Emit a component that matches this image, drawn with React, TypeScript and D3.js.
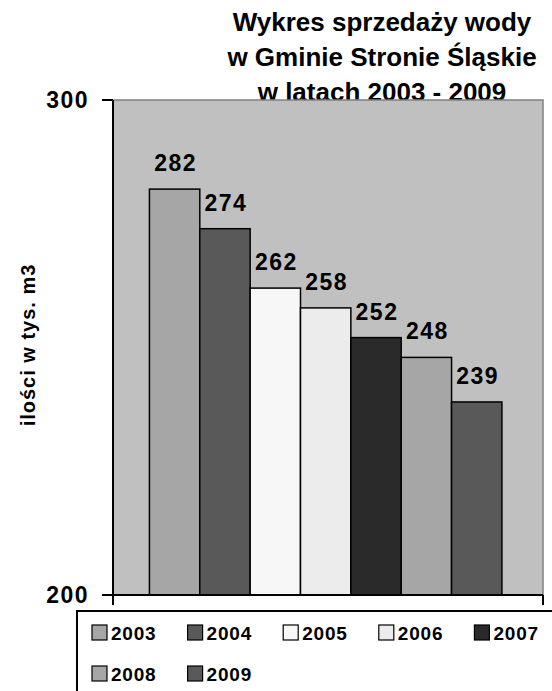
import { useEffect, useRef } from "react";
import * as d3 from "d3";

const years = ["2003", "2004", "2005", "2006", "2007", "2008", "2009"];
const sales = [282, 274, 262, 258, 252, 248, 239];
const barColors = ["#a6a6a6", "#595959", "#f7f7f7", "#ececec", "#2a2a2a", "#a6a6a6", "#595959"];
const yTicks = [200, 300];
const titleLines = ["Wykres sprzedaży wody", "w Gminie Stronie Śląskie", "w latach 2003 - 2009"];
const yTitle = "ilości w tys. m3";

const W = 552;
const H = 691;
const FONT = "'Liberation Sans', Arial, sans-serif";

const App = () => {
  const svgRef = useRef<SVGSVGElement>(null);

  useEffect(() => {
    if (!svgRef.current) return;
    const svg = d3.select(svgRef.current);
    svg.selectAll("*").remove();

    const plot = { left: 113, right: 543, top: 100, bottom: 595 };

    const x = d3.scaleBand<string>()
      .domain(years)
      .range([plot.left, plot.right])
      .paddingInner(0)
      .paddingOuter(0.77)
      .align(0.47);
    const y = d3.scaleLinear().domain([200, 300]).range([plot.bottom, plot.top]);

    svg.append("rect").attr("width", W).attr("height", H).attr("fill", "#fff");

    // Title (drawn first, plot area overlaps the last line a bit)
    const title = svg.append("text")
      .attr("text-anchor", "middle")
      .attr("font-family", FONT)
      .attr("font-weight", 700)
      .attr("font-size", 26)
      .attr("fill", "#000");
    titleLines.forEach((t, i) => {
      title.append("tspan").attr("x", 382).attr("y", 31 + i * 35).text(t);
    });

    // Plot area
    svg.append("rect")
      .attr("x", plot.left)
      .attr("y", plot.top)
      .attr("width", plot.right - plot.left)
      .attr("height", plot.bottom - plot.top)
      .attr("fill", "#c0c0c0")
      .attr("stroke", "#808080")
      .attr("stroke-width", 1.5);

    // Bars
    svg.selectAll(".bar")
      .data(sales)
      .enter()
      .append("rect")
      .attr("class", "bar")
      .attr("x", (_, i) => x(years[i])!)
      .attr("y", (d) => y(d))
      .attr("width", x.bandwidth())
      .attr("height", (d) => y(200) - y(d))
      .attr("fill", (_, i) => barColors[i])
      .attr("stroke", "#000")
      .attr("stroke-width", 1.5);

    // Value labels
    svg.selectAll(".val")
      .data(sales)
      .enter()
      .append("text")
      .attr("class", "val")
      .attr("x", (_, i) => x(years[i])! + x.bandwidth() / 2 + 1)
      .attr("y", (d) => y(d) - 18)
      .attr("text-anchor", "middle")
      .attr("font-family", FONT)
      .attr("font-weight", 700)
      .attr("font-size", 23)
      .attr("letter-spacing", 1.5)
      .text((d) => d);

    // Axes
    const axes = svg.append("g").attr("stroke", "#000").attr("stroke-width", 2);
    axes.append("line").attr("x1", plot.left).attr("x2", plot.left).attr("y1", plot.top).attr("y2", plot.bottom + 10);
    axes.append("line").attr("x1", plot.left - 11).attr("x2", plot.right).attr("y1", plot.bottom).attr("y2", plot.bottom);
    axes.append("line").attr("x1", plot.right).attr("x2", plot.right).attr("y1", plot.bottom).attr("y2", plot.bottom + 10);
    yTicks.forEach((t) => {
      axes.append("line").attr("x1", plot.left - 11).attr("x2", plot.left).attr("y1", y(t)).attr("y2", y(t));
      svg.append("text")
        .attr("x", 89)
        .attr("y", y(t) + 8)
        .attr("text-anchor", "end")
        .attr("font-family", FONT)
        .attr("font-weight", 700)
        .attr("font-size", 23)
        .attr("letter-spacing", 1.5)
        .text(t);
    });

    // Y axis title
    svg.append("text")
      .attr("transform", `translate(35,345) rotate(-90)`)
      .attr("text-anchor", "middle")
      .attr("font-family", FONT)
      .attr("font-weight", 700)
      .attr("font-size", 20)
      .attr("letter-spacing", 1)
      .text(yTitle);

    // Legend
    svg.append("rect")
      .attr("x", 77)
      .attr("y", 611)
      .attr("width", 500)
      .attr("height", 120)
      .attr("fill", "#fff")
      .attr("stroke", "#000")
      .attr("stroke-width", 2);
    const legend = svg.selectAll(".leg")
      .data(years)
      .enter()
      .append("g")
      .attr("class", "leg")
      .attr("transform", (_, i) => `translate(${92 + (i % 5) * 95.6},${625 + Math.floor(i / 5) * 41})`);
    legend.append("rect")
      .attr("width", 15)
      .attr("height", 15)
      .attr("fill", (_, i) => barColors[i])
      .attr("stroke", "#000")
      .attr("stroke-width", 1.2);
    legend.append("text")
      .attr("x", 19)
      .attr("y", 14.5)
      .attr("font-family", FONT)
      .attr("font-weight", 700)
      .attr("font-size", 19)
      .attr("letter-spacing", 0.8)
      .text((d) => d);
  }, []);

  return <svg ref={svgRef} width={W} height={H} style={{ position: "absolute", left: 0, top: 0 }} />;
};

export default App;
